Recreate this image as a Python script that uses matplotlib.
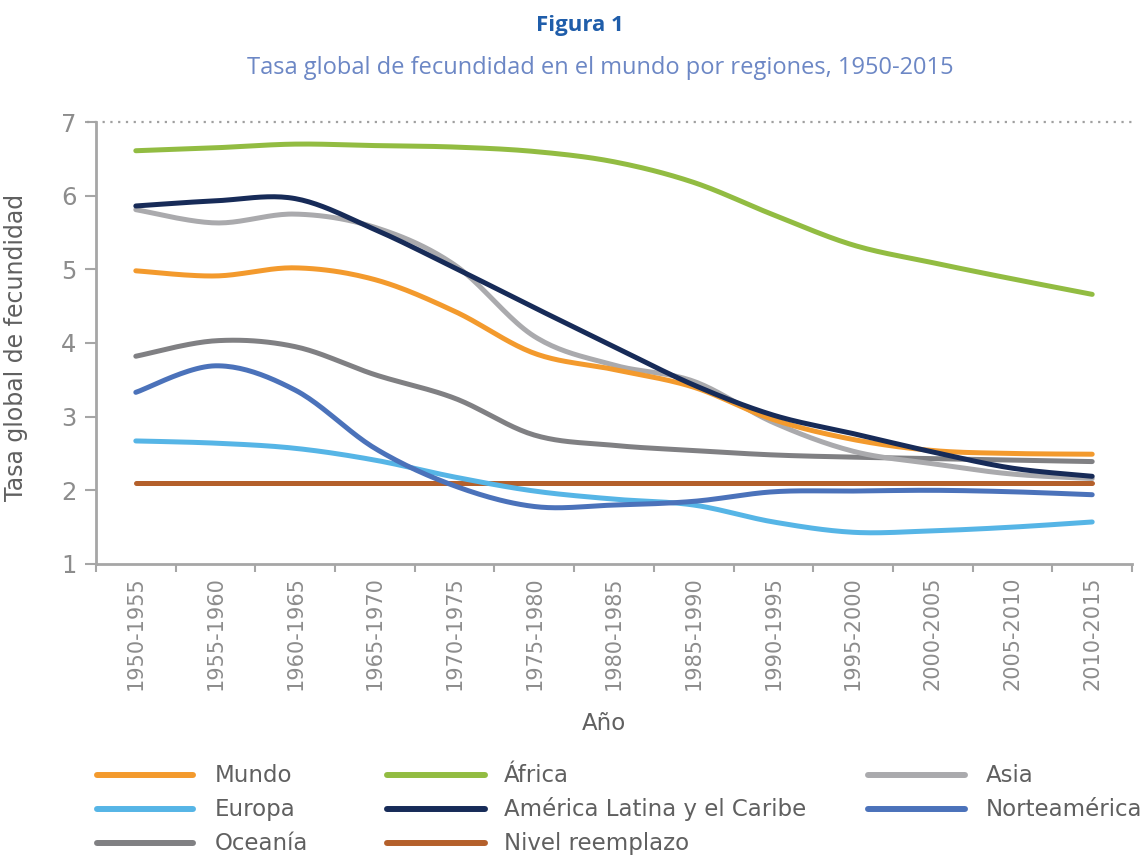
import numpy as np
import matplotlib.pyplot as plt
from matplotlib.lines import Line2D

# periodos quinquenales
periodos = ['1950-1955', '1955-1960', '1960-1965', '1965-1970', '1970-1975',
            '1975-1980', '1980-1985', '1985-1990', '1990-1995', '1995-2000',
            '2000-2005', '2005-2010', '2010-2015']

mundo = [4.98, 4.91, 5.02, 4.86, 4.43, 3.86, 3.64, 3.40, 2.96, 2.69, 2.54, 2.50, 2.49]
africa = [6.61, 6.65, 6.70, 6.68, 6.66, 6.60, 6.46, 6.18, 5.74, 5.33, 5.09, 4.87, 4.66]
asia = [5.81, 5.63, 5.75, 5.57, 5.06, 4.09, 3.70, 3.48, 2.92, 2.53, 2.36, 2.22, 2.16]
europa = [2.67, 2.64, 2.57, 2.41, 2.18, 1.99, 1.88, 1.80, 1.57, 1.43, 1.45, 1.50, 1.57]
america_latina = [5.86, 5.93, 5.96, 5.54, 5.02, 4.48, 3.95, 3.43, 3.02, 2.77, 2.52, 2.30, 2.19]
norteamerica = [3.33, 3.69, 3.36, 2.57, 2.06, 1.78, 1.80, 1.85, 1.98, 1.99, 2.00, 1.98, 1.94]
oceania = [3.82, 4.03, 3.95, 3.57, 3.25, 2.75, 2.61, 2.54, 2.48, 2.45, 2.43, 2.41, 2.39]
nivel_reemplazo = [2.1] * 13

series = [
    ('Mundo', mundo, '#F39A2D'),
    ('Europa', europa, '#56B5E6'),
    ('Oceanía', oceania, '#808083'),
    ('África', africa, '#92BC42'),
    ('América Latina y el Caribe', america_latina, '#172B58'),
    ('Nivel reemplazo', nivel_reemplazo, '#B4602B'),
    ('Asia', asia, '#AAAAAD'),
    ('Norteamérica', norteamerica, '#4B72BA'),
]
# orden de dibujo (el primero queda abajo)
orden_dibujo = ['Nivel reemplazo', 'Europa', 'Norteamérica', 'Oceanía', 'Asia',
                'Mundo', 'África', 'América Latina y el Caribe']


def suavizar(x, y, n=24):
    # curva suavizada tipo Excel (Catmull-Rom / Bezier)
    x = np.asarray(x, float)
    y = np.asarray(y, float)
    px = np.concatenate([[x[0]], x, [x[-1]]])
    py = np.concatenate([[y[0]], y, [y[-1]]])
    xs, ys = [], []
    t = np.linspace(0, 1, n)
    for i in range(1, len(px) - 2):
        p0 = np.array([px[i], py[i]])
        p3 = np.array([px[i + 1], py[i + 1]])
        c1 = p0 + (np.array([px[i + 1], py[i + 1]]) - np.array([px[i - 1], py[i - 1]])) / 6
        c2 = p3 - (np.array([px[i + 2], py[i + 2]]) - np.array([px[i], py[i]])) / 6
        b = ((1 - t) ** 3)[:, None] * p0 + (3 * (1 - t) ** 2 * t)[:, None] * c1 \
            + (3 * (1 - t) * t ** 2)[:, None] * c2 + (t ** 3)[:, None] * p3
        xs.extend(b[:, 0])
        ys.extend(b[:, 1])
    return np.array(xs), np.array(ys)


gris = '#8C8C8C'
eje = '#A6A6A6'

fig = plt.figure(figsize=(11.48, 8.55), dpi=100)
ax = fig.add_axes([0.0836, 0.3404, 0.9025, 0.5169])

x = np.arange(len(periodos))
datos = {nombre: (vals, color) for nombre, vals, color in series}
for nombre in orden_dibujo:
    vals, color = datos[nombre]
    xs, ys = suavizar(x, vals)
    ax.plot(xs, ys, color=color, lw=3.6, solid_capstyle='round', zorder=3)

ax.set_xlim(-0.5, len(periodos) - 0.5)
ax.set_ylim(1, 7)
ax.set_yticks(range(1, 8))
ax.set_xticks(x)
ax.set_xticklabels(periodos, rotation=90, fontsize=15, color=gris)
ax.set_xticks(np.arange(-0.5, len(periodos)), minor=True)
ax.tick_params(axis='x', which='major', length=0, pad=9)
ax.tick_params(axis='x', which='minor', length=6, width=1.5, color=eje)
ax.tick_params(axis='y', length=8, width=1.5, color=eje, labelsize=17.5,
               labelcolor=gris, pad=6)

for s in ['top', 'right']:
    ax.spines[s].set_visible(False)
for s in ['left', 'bottom']:
    ax.spines[s].set_color(eje)
    ax.spines[s].set_linewidth(2)
ax.axhline(7, xmin=-0.009, xmax=1, color='#A0A0A0', lw=1.6, ls=(0, (1, 2.5)),
           clip_on=False, zorder=2)

ax.set_ylabel('Tasa global de fecundidad', fontsize=17, color='#606060')
ax.yaxis.set_label_coords(-0.066, 0.49)
ax.set_xlabel('Año', fontsize=16.5, color='#606060')
ax.xaxis.set_label_coords(0.49, -0.335)

fig.text(0.505, 0.970, 'Figura 1', ha='center', va='center', fontsize=16,
         fontweight='bold', color='#1F5DAA', family='Open Sans')
fig.text(0.523, 0.921, 'Tasa global de fecundidad en el mundo por regiones, 1950-2015',
         ha='center', va='center', fontsize=17, color='#6C87C5', family='Open Sans')

# leyenda en tres columnas
col_x = [(97, 193, 215), (387, 485, 504), (868, 965, 986)]
fila_y = [775, 809, 843]
W, H = 1148, 855
for i, (nombre, vals, color) in enumerate(series):
    c, f = i // 3, i % 3
    x0, x1, xt = col_x[c]
    yy = 1 - fila_y[f] / H
    fig.add_artist(Line2D([x0 / W, x1 / W], [yy, yy], color=color, lw=4.3,
                          solid_capstyle='round', transform=fig.transFigure))
    fig.text(xt / W, yy, nombre, ha='left', va='center', fontsize=16.5,
             color='#606060')

fig.savefig('out.png', dpi=100)
